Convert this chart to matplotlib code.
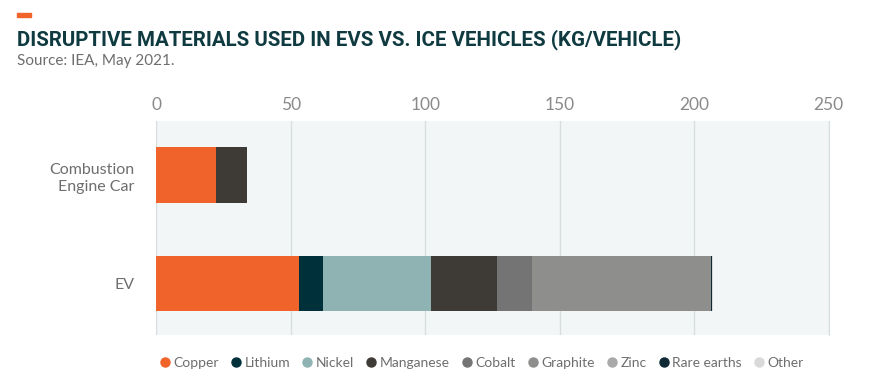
import matplotlib.pyplot as plt
from matplotlib.lines import Line2D
import numpy as np

# data (kg per vehicle), IEA May 2021
vehicles = ['Combustion\nEngine Car', 'EV']
materials = ['Copper', 'Lithium', 'Nickel', 'Manganese', 'Cobalt',
             'Graphite', 'Zinc', 'Rare earths', 'Other']
copper = [22.3, 53.2]
lithium = [0.0, 8.9]
nickel = [0.0, 39.9]
manganese = [11.2, 24.5]
cobalt = [0.0, 13.3]
graphite = [0.0, 66.3]
zinc = [0.0, 0.1]
rare_earths = [0.0, 0.5]
other = [0.3, 0.3]
x_ticks = [0, 50, 100, 150, 200, 250]

colors = ['#f0632b', '#00313a', '#8fb3b3', '#3e3a35', '#747474',
          '#8e8e8c', '#a9a9a9', '#0f2a35', '#d9d9d9']

plt.rcParams['font.family'] = ['Lato', 'DejaVu Sans']

fig = plt.figure(figsize=(8.74, 3.89), dpi=100)
fig.patch.set_facecolor('white')
ax = fig.add_axes([0.179, 0.139, 0.769, 0.550])
ax.set_facecolor('#f2f6f7')

series = [copper, lithium, nickel, manganese, cobalt, graphite, zinc,
          rare_earths, other]
y = np.arange(len(vehicles))
left = np.zeros(len(vehicles))
for vals, col, name in zip(series, colors, materials):
    vals = np.array(vals)
    ax.barh(y, vals, left=left, height=0.51, color=col, label=name,
            zorder=3)
    left += vals

ax.set_xlim(0, 250)
ax.set_ylim(1.48, -0.5)
ax.set_xticks(x_ticks)
ax.xaxis.tick_top()
ax.tick_params(axis='x', length=0, pad=6, labelsize=12.5, colors='#8a8a8a')
ax.set_yticks(y)
ax.set_yticklabels(vehicles, ha='right', fontsize=11.5, color='#6e6e6e',
                   linespacing=1.3)
ax.tick_params(axis='y', length=0, pad=16)
ax.grid(axis='x', color='#d8dddf', linewidth=1, zorder=0)
for s in ['top', 'bottom', 'left']:
    ax.spines[s].set_visible(False)
ax.spines['right'].set_color('#d8dddf')

# title block
fig.patches.append(plt.Rectangle((17 / 874, 1 - 17 / 389), 14 / 874, 4 / 389,
                                 transform=fig.transFigure,
                                 color='#f0632b'))
fig.text(17 / 874, 1 - 45 / 389, 'DISRUPTIVE MATERIALS USED IN EVS VS. ICE VEHICLES (KG/VEHICLE)',
         fontsize=14.8, fontweight='bold', color='#0e3a40',
         family=['Roboto', 'DejaVu Sans'], va='baseline')
fig.text(17 / 874, 1 - 65 / 389, 'Source: IEA, May 2021.', fontsize=11,
         color='#6e6e6e', va='baseline')

handles = [Line2D([], [], marker='o', linestyle='none', markersize=6.5,
                  markerfacecolor=c, markeredgecolor=c) for c in colors]
fig.legend(handles, materials, loc='center left', ncol=9,
           bbox_to_anchor=(146 / 874, 1 - 363 / 389), frameon=False,
           handletextpad=0.15, columnspacing=0.8, fontsize=10,
           labelcolor='#6e6e6e', handlelength=0.9)

plt.savefig('out.png', dpi=100)
